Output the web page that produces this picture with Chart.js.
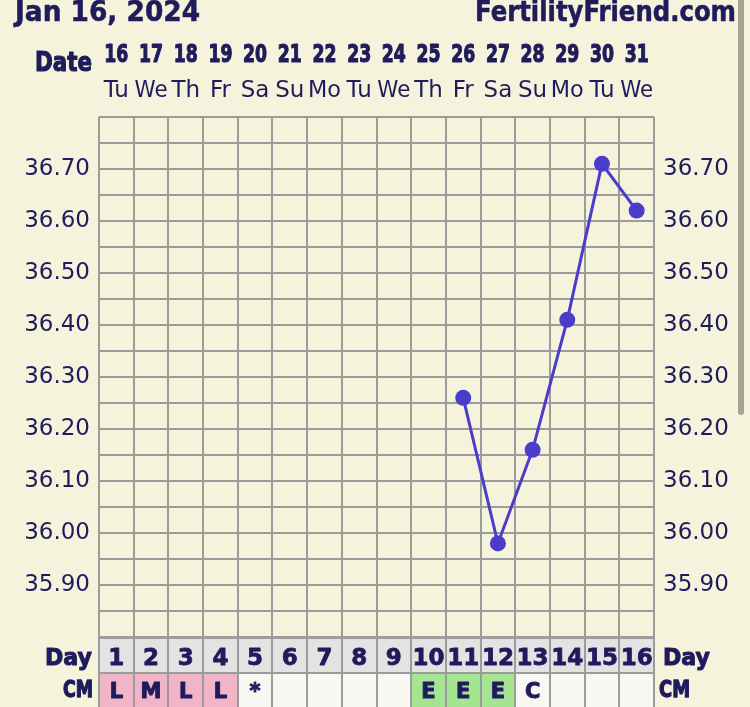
<!DOCTYPE html>
<html><head><meta charset="utf-8">
<script src="https://cdn.jsdelivr.net/npm/chart.js@4/dist/chart.umd.min.js"></script>
<style>html,body{margin:0;padding:0;background:#f5f3dc;overflow:hidden}#wrap{width:750px;height:707px;position:relative}</style>
</head><body><div id="wrap"><canvas id="c" width="750" height="707"></canvas></div>
<script>
// ---- data ----
const headerDate = 'Jan 16, 2024';
const siteName = 'FertilityFriend.com';
const cycleDays = [1,2,3,4,5,6,7,8,9,10,11,12,13,14,15,16];
const dates = ['16','17','18','19','20','21','22','23','24','25','26','27','28','29','30','31'];
const weekdays = ['Tu','We','Th','Fr','Sa','Su','Mo','Tu','We','Th','Fr','Sa','Su','Mo','Tu','We'];
const temps = [null,null,null,null,null,null,null,null,null,null,36.26,35.98,36.16,36.41,36.71,36.62];
const cmObs = ['L','M','L','L','*','','','','','E','E','E','C','','',''];
const yTickLabels = ['35.90','36.00','36.10','36.20','36.30','36.40','36.50','36.60','36.70'];
const yMin = 35.80, yMax = 36.80, yGridStep = 0.05;

// ---- styles ----
const BG = '#f5f3dc', NAVY = '#201b5c', GRID = '#9c9c9c', LINE = '#4b3ccc';
const cmColor = s => (s === 'L' || s === 'M' || s === 'H') ? '#f2b5c7' : (s === 'E' ? '#a5e592' : '#f8f8f2');

function txt(ctx, s, x, y, font, align, width, maxW, bold) {
  ctx.font = font;
  const w = ctx.measureText(s).width;
  let sx = 1;
  if (width) sx = width / w;
  if (maxW && w > maxW) sx = maxW / w;
  ctx.save();
  ctx.translate(x, y);
  ctx.scale(sx, 1);
  ctx.textAlign = align;
  ctx.textBaseline = 'alphabetic';
  ctx.fillStyle = NAVY;
  ctx.fillText(s, 0, 0);
  if (bold) {
    ctx.strokeStyle = NAVY;
    ctx.lineWidth = bold;
    ctx.lineJoin = 'round';
    ctx.strokeText(s, 0, 0);
  }
  ctx.restore();
}

const decor = {
  id: 'decor',
  beforeDraw(chart) {
    const ctx = chart.ctx;
    ctx.save();
    ctx.fillStyle = BG;
    ctx.fillRect(0, 0, chart.width, chart.height);
    ctx.restore();
  },
  afterDraw(chart) {
    const ctx = chart.ctx, xs = chart.scales.x, ca = chart.chartArea;
    // header
    txt(ctx, headerDate, 15, 21, 'bold 29px "DejaVu Sans"', 'left', 185, null, 0.6);
    txt(ctx, siteName, 736, 21, 'bold 29px "DejaVu Sans"', 'right', 261, null, 0.6);
    txt(ctx, 'Date', 92, 71, 'bold 27px "DejaVu Sans"', 'right', 57, null, 1.2);
    cycleDays.forEach((d, i) => {
      const cx = xs.getPixelForValue(d);
      txt(ctx, dates[i], cx, 62, 'bold 24px "DejaVu Sans"', 'center', 24, null, 1.2);
      txt(ctx, weekdays[i], cx, 97, '23px "DejaVu Sans"', 'center', null, 33);
    });
    // table
    const top = ca.bottom + 1, mid = 673, bot = 712;
    ctx.save();
    cycleDays.forEach((d, i) => {
      const x0 = xs.getPixelForValue(d - 0.5), x1 = xs.getPixelForValue(d + 0.5);
      ctx.fillStyle = '#e3e3e4';
      ctx.fillRect(x0, top, x1 - x0, mid - top);
      ctx.fillStyle = cmColor(cmObs[i]);
      ctx.fillRect(x0, mid, x1 - x0, bot - mid);
    });
    ctx.strokeStyle = GRID; ctx.lineWidth = 2;
    ctx.beginPath();
    const xl = xs.getPixelForValue(0.5), xr = xs.getPixelForValue(16.5);
    ctx.moveTo(xl, top); ctx.lineTo(xr, top);
    ctx.moveTo(xl, mid); ctx.lineTo(xr, mid);
    for (let k = 0; k <= cycleDays.length; k++) {
      const x = Math.round(xs.getPixelForValue(k + 0.5));
      ctx.moveTo(x, top - 2); ctx.lineTo(x, bot);
    }
    ctx.stroke();
    ctx.restore();
    cycleDays.forEach((d, i) => {
      const cx = xs.getPixelForValue(d);
      txt(ctx, String(d), cx, 665, 'bold 23px "DejaVu Sans"', 'center', null, 33, 0.8);
      if (cmObs[i]) txt(ctx, cmObs[i], cx, 698, 'bold 21px "DejaVu Sans"', 'center', null, null, 1);
    });
    txt(ctx, 'Day', 92, 665, 'bold 23px "DejaVu Sans"', 'right', 47, null, 1);
    txt(ctx, 'CM', 93, 697, 'bold 23px "DejaVu Sans"', 'right', 30, null, 1.4);
    txt(ctx, 'Day', 663, 665, 'bold 23px "DejaVu Sans"', 'left', 47, null, 1);
    txt(ctx, 'CM', 659, 697, 'bold 23px "DejaVu Sans"', 'left', 31, null, 1.4);
    // scrollbar
    ctx.save();
    ctx.fillStyle = '#a4a48f';
    ctx.beginPath();
    ctx.moveTo(738, 0); ctx.lineTo(744, 0); ctx.lineTo(744, 412);
    ctx.arc(741, 412, 3, 0, Math.PI); ctx.closePath();
    ctx.fill();
    ctx.restore();
  }
};

const yTicks = [];
for (let v = yMin; v <= yMax + 1e-9; v += yGridStep) yTicks.push({ value: +v.toFixed(2) });
const xTicks = [];
for (let k = 0; k <= cycleDays.length; k++) xTicks.push({ value: k + 0.5 });
const tickLabel = v => { const s = (+v).toFixed(2); return yTickLabels.includes(s) ? s : ''; };
const tickFont = { family: '"DejaVu Sans"', size: 23 };

new Chart(document.getElementById('c'), {
  type: 'line',
  data: {
    datasets: [{
      data: cycleDays.map((d, i) => ({ x: d, y: temps[i] })),
      borderColor: LINE, backgroundColor: LINE,
      borderWidth: 3, pointRadius: 8, pointBackgroundColor: LINE, pointBorderWidth: 0,
      tension: 0, spanGaps: false
    }]
  },
  options: {
    responsive: false, animation: false, devicePixelRatio: 1,
    layout: { padding: { top: 117, bottom: 70, left: 0, right: 0 } },
    plugins: { legend: { display: false }, tooltip: { enabled: false } },
    scales: {
      x: {
        type: 'linear', min: 0.5, max: 16.5, position: 'bottom',
        afterBuildTicks: s => { s.ticks = xTicks.map(t => ({ ...t })); },
        ticks: { display: false },
        grid: { color: GRID, lineWidth: 2, drawTicks: false },
        border: { display: false },
        afterFit: s => { s.height = 0; }
      },
      y: {
        position: 'left', min: yMin, max: yMax,
        afterBuildTicks: s => { s.ticks = yTicks.map(t => ({ ...t })); },
        ticks: { callback: tickLabel, font: tickFont, color: NAVY, padding: 9, autoSkip: false },
        grid: { color: GRID, lineWidth: 2, drawTicks: false },
        border: { display: false },
        afterFit: s => { s.width = 99; }
      },
      y2: {
        position: 'right', min: yMin, max: yMax,
        afterBuildTicks: s => { s.ticks = yTicks.map(t => ({ ...t })); },
        ticks: { callback: tickLabel, font: tickFont, color: NAVY, padding: 9, autoSkip: false },
        grid: { drawOnChartArea: false, drawTicks: false },
        border: { display: false },
        afterFit: s => { s.width = 96; }
      }
    }
  },
  plugins: [decor]
});
</script>
</body></html>
